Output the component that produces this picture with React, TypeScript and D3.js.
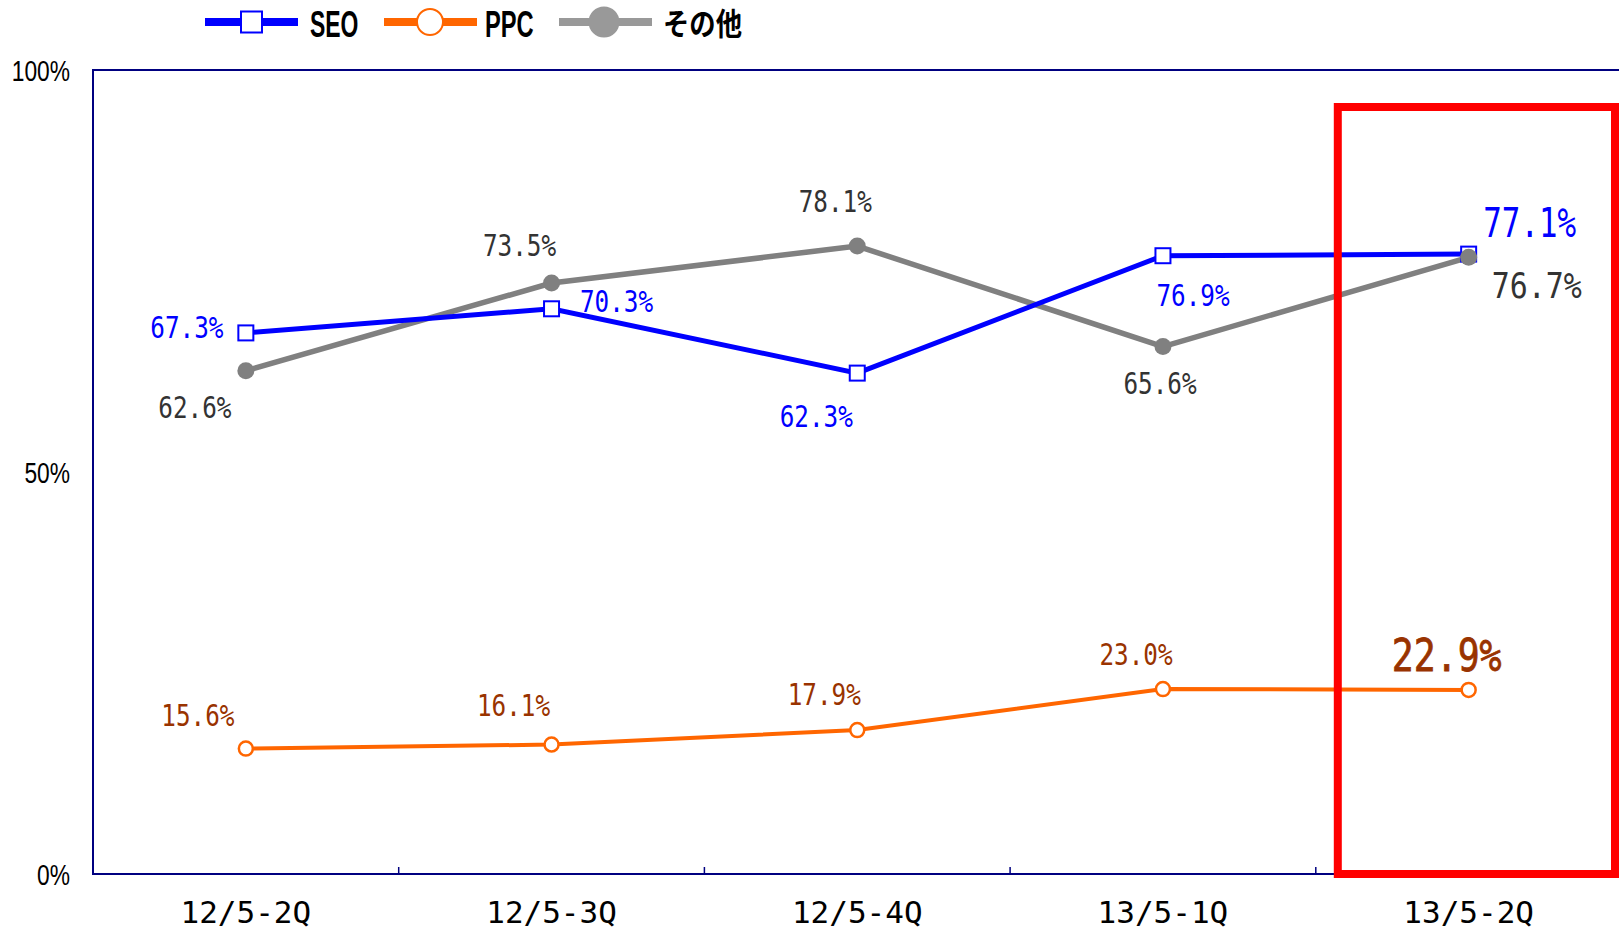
import React from 'react'
import * as d3 from 'd3'

const categories = ['12/5-2Q', '12/5-3Q', '12/5-4Q', '13/5-1Q', '13/5-2Q']
const seo = [67.3, 70.3, 62.3, 76.9, 77.1]
const ppc = [15.6, 16.1, 17.9, 23.0, 22.9]
const other = [62.6, 73.5, 78.1, 65.6, 76.7]
const yTicks = [0, 50, 100]

// label placement relative to each point [dx, dy] (layout only)
const seoLabelPos = [[-59, -6], [65, -8], [-41, 43], [30, 39], [61, -32]]
const otherLabelPos = [[-51, 36], [-32, -38], [-22, -45], [-3, 36], [68, 28]]
const ppcLabelPos = [[-48, -34], [-38, -40], [-33, -36], [-27, -35], [-22, -35]]

const W = 1619
const H = 929
const left = 93
const top = 70
const bottom = 874
const band = 305.7

const labelFont = '"DejaVu Sans Mono", monospace'
const sansFont = "'Liberation Sans', Arial, sans-serif"

export default function App() {
  const x = d3.scaleBand<string>().domain(categories).range([left, left + band * categories.length])
  const y = d3.scaleLinear().domain([0, 100]).range([bottom, top])
  const cx = (i: number) => (x(categories[i]) as number) + x.bandwidth() / 2

  const line = d3.line<number>().x((_, i) => cx(i)).y(d => y(d))

  const label = (v: number, i: number, pos: number[][], color: string, heavy: boolean, size: number, sx: number) => {
    const px = cx(i) + pos[i][0]
    const py = y(v) + pos[i][1] + size * 0.365
    return (
      <text key={'l' + i} transform={`translate(${px},${py}) scale(${sx},1)`} textAnchor="middle"
        fontFamily={labelFont} fontSize={size} fill={color}
        stroke={heavy ? color : 'none'} strokeWidth={heavy ? 0.8 : 0}>
        {v.toFixed(1) + '%'}
      </text>
    )
  }

  const last = categories.length - 1
  const boxX0 = (x(categories[last]) as number) + 22
  const boxX1 = W - 4

  return (
    <svg width={W} height={H} style={{ position: 'absolute', left: 0, top: 0, background: '#fff' }}>
      {/* legend */}
      <g>
        <line x1={205} x2={298} y1={22} y2={22} stroke="#0000ff" strokeWidth={8} />
        <rect x={241} y={11.5} width={21} height={21} fill="#fff" stroke="#0000ff" strokeWidth={2} />
        <text transform="translate(310,37) scale(0.62,1)" fontFamily={sansFont} fontWeight="bold" fontSize={37}>SEO</text>
        <line x1={384} x2={477} y1={22} y2={22} stroke="#ff6600" strokeWidth={8} />
        <circle cx={430} cy={22} r={13} fill="#fff" stroke="#ff6600" strokeWidth={2} />
        <text transform="translate(485,37) scale(0.64,1)" fontFamily={sansFont} fontWeight="bold" fontSize={37}>PPC</text>
        <line x1={559} x2={652} y1={22} y2={22} stroke="#999999" strokeWidth={8} />
        <circle cx={604} cy={22} r={15.5} fill="#999999" />
        <text transform="translate(663,35) scale(0.85,1)" fontFamily="'Noto Sans CJK JP', sans-serif" fontWeight="bold" fontSize={31}>その他</text>
      </g>

      {/* axes */}
      <g stroke="#000080" strokeWidth={2} fill="none">
        <path d={`M${W},${top}H${left}V${bottom}H${W}`} />
        {categories.slice(1).map(c => (
          <line key={c} x1={x(c)} x2={x(c)} y1={bottom} y2={bottom - 7} strokeWidth={1.5} />
        ))}
      </g>
      {yTicks.map(t => (
        <text key={t} transform={`translate(70,${y(t) + 11}) scale(0.76,1)`} textAnchor="end"
          fontFamily={sansFont} fontSize={30} fill="#000">{t + '%'}</text>
      ))}
      {categories.map((c, i) => (
        <text key={c} x={cx(i)} y={923} textAnchor="middle" fontFamily={labelFont} fontSize={31} fill="#000">{c}</text>
      ))}

      {/* series */}
      <path d={line(other) as string} fill="none" stroke="#808080" strokeWidth={5.5} />
      <path d={line(seo) as string} fill="none" stroke="#0000ff" strokeWidth={5} />
      <path d={line(ppc) as string} fill="none" stroke="#ff6600" strokeWidth={4} />

      {seo.map((v, i) => (
        <rect key={'s' + i} x={cx(i) - 7.5} y={y(v) - 7.5} width={15} height={15} fill="#fff" stroke="#0000ff" strokeWidth={2} />
      ))}
      {ppc.map((v, i) => (
        <circle key={'p' + i} cx={cx(i)} cy={y(v)} r={7} fill="#fff" stroke="#ff6600" strokeWidth={2.5} />
      ))}
      {other.map((v, i) => (
        <circle key={'o' + i} cx={cx(i)} cy={y(v)} r={8.5} fill="#808080" />
      ))}

      {/* labels */}
      {seo.map((v, i) => i === last
        ? label(v, i, seoLabelPos, '#0000ff', false, 40, 0.77)
        : label(v, i, seoLabelPos, '#0000ff', false, 30, 0.81))}
      {other.map((v, i) => i === last
        ? label(v, i, otherLabelPos, '#333333', false, 36, 0.83)
        : label(v, i, otherLabelPos, '#333333', false, 30, 0.81))}
      {ppc.map((v, i) => i === last
        ? label(v, i, ppcLabelPos, '#993300', true, 45, 0.81)
        : label(v, i, ppcLabelPos, '#993300', false, 30, 0.81))}

      {/* highlight box */}
      <rect x={boxX0} y={107} width={boxX1 - boxX0} height={bottom - 107} fill="none" stroke="#ff0000" strokeWidth={8} />
    </svg>
  )
}
